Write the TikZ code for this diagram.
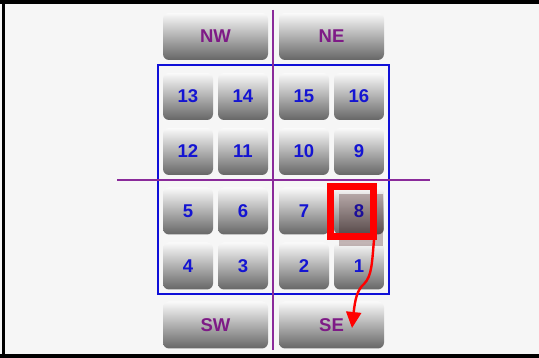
\documentclass[tikz,border=0pt]{standalone}
\usepackage{fontspec}
\setmainfont{Liberation Sans}
\usetikzlibrary{arrows.meta}
\definecolor{bgc}{HTML}{F6F6F6}
\definecolor{lblpurple}{HTML}{7E1A86}
\definecolor{linepurple}{HTML}{8A2A9A}
\definecolor{numblue}{HTML}{1414D2}
\definecolor{boxblue}{HTML}{1010D8}
\tikzset{
  btn/.style={rounded corners=6pt, top color=black!2, middle color=black!20, bottom color=black!60,
    inner sep=0pt, font=\bfseries\fontsize{18.5}{20}\selectfont},
  small/.style={btn, minimum width=50pt, minimum height=47pt, text=numblue},
  big/.style={btn, minimum width=105pt, minimum height=47pt, text=lblpurple},
  divider/.style={draw=linepurple, line width=2pt},
  frame/.style={draw=black, line width=3.5pt},
  selbox/.style={draw=red, line width=7pt, minimum width=43pt, minimum height=50pt, inner sep=0pt},
  movearrow/.style={draw=red, line width=2.4pt, -{Triangle[width=15pt,length=16pt]}}
}
\begin{document}
\begin{tikzpicture}[x=1pt,y=-1pt]
\useasboundingbox (0,0) rectangle (539,358);
\fill[bgc] (0,0) rectangle (539,358);
% frame
\draw[frame] (0,2) -- (539,2);
\draw[frame] (3.5,0) -- (3.5,358);
\draw[frame] (0,356) -- (539,356);
% big buttons
\node[big] (nw) at (215.5,36.5) {NW};
\node[big] (ne) at (331.5,36.5) {NE};
\node[big] (sw) at (215.5,325) {SW};
\node[big] (se) at (331.5,325) {SE};
% small buttons
\node[small] (b13) at (188,96.5) {13};
\node[small] (b14) at (243,96.5) {14};
\node[small] (b15) at (304,96.5) {15};
\node[small] (b16) at (359,96.5) {16};
\node[small] (b12) at (188,151.5) {12};
\node[small] (b11) at (243,151.5) {11};
\node[small] (b10) at (304,151.5) {10};
\node[small] (b9) at (359,151.5) {9};
\node[small] (b5) at (188,211) {5};
\node[small] (b6) at (243,211) {6};
\node[small] (b7) at (304,211) {7};
\node[small] (b8) at (359,211) {8};
\node[small] (b4) at (188,266) {4};
\node[small] (b3) at (243,266) {3};
\node[small] (b2) at (304,266) {2};
\node[small] (b1) at (359,266) {1};
% blue box
\draw[draw=boxblue, line width=2pt] (158,65.5) rectangle (389,294);
% dividers
\draw[divider] (273,10) -- (273,350);
\draw[divider] (117,180) -- (430,180);
% selection box with shadow
\fill[black!80!red, opacity=0.27] (339,194) rectangle (383,246);
\node[selbox] (sel) at (352,211.5) {};
\coordinate (tip) at (352,328);
\draw[movearrow] ([xshift=-3pt]sel.south east) .. controls (372,262) and (372,276) .. (364,284)
  .. controls (357,290) and (355,300) .. (tip);
\end{tikzpicture}
\end{document}
